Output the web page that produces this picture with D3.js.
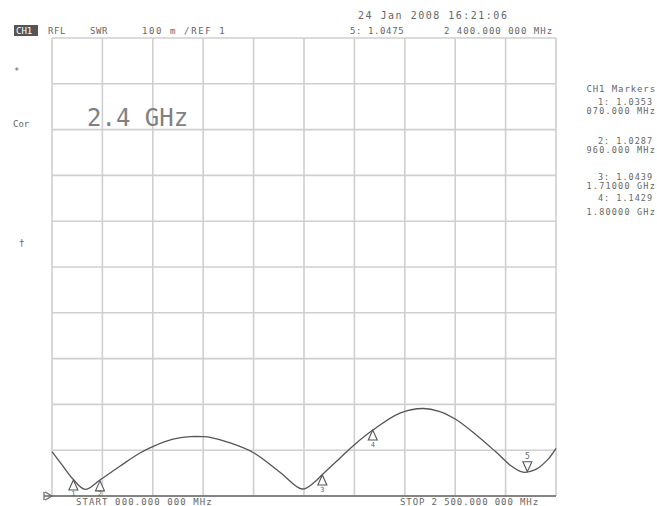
<!DOCTYPE html>
<html>
<head>
<meta charset="utf-8">
<script src="https://cdn.jsdelivr.net/npm/d3@7"></script>
<style>
  body { margin: 0; background: #fff; }
  text { font-family: "DejaVu Sans Mono", monospace; fill: #666; }
</style>
</head>
<body>
<div class="container"></div>
<script>
// trace (MHz / SWR)
const freqs = [0, 50, 104, 164, 238, 337, 436, 500, 600, 685, 750, 784, 883, 1000, 1131, 1240, 1304, 1339, 1429, 1500, 1592, 1726, 1840, 1920, 2000, 2100, 2200, 2280, 2336, 2400, 2460, 2500];
const swr = [1.097, 1.068, 1.037, 1.0146, 1.035, 1.065, 1.094, 1.108, 1.124, 1.1295, 1.1295, 1.128, 1.116, 1.0945, 1.052, 1.0153, 1.031, 1.046, 1.083, 1.112, 1.144, 1.181, 1.191, 1.185, 1.168, 1.135, 1.097, 1.065, 1.052, 1.058, 1.08, 1.104];

// markers
const markerIds = [1, 2, 3, 4, 5];
const markerFreqs = [106, 238, 1341, 1591, 2358];
const markerSwr = [1.035, 1.033, 1.046, 1.144, 1.053];

const xTicks = d3.range(0, 2501, 250);
const yTicks = d3.range(10, 21).map(d => d / 10);

const markerList = [
  ["1: 1.0353", "070.000 MHz"],
  ["2: 1.0287", "960.000 MHz"],
  ["3: 1.0439", "1.71000 GHz"],
  ["4: 1.1429", "1.80000 GHz"]
];

const WIDTH = 657;
const HEIGHT = 506;

const svg = d3.select(".container").append("svg")
  .attr("width", WIDTH).attr("height", HEIGHT);

const x = d3.scaleLinear().domain([0, 2500]).range([52, 556]);
const y = d3.scaleLinear().domain([1, 2]).range([496, 38]);

/* grid */
svg.selectAll(".vg").data(xTicks).enter().append("line")
  .attr("x1", d => x(d)).attr("x2", d => x(d))
  .attr("y1", y(2)).attr("y2", y(1))
  .attr("stroke", "#cfcfcf").attr("stroke-width", 1.6);

svg.selectAll(".hg").data(yTicks).enter().append("line")
  .attr("x1", x(0)).attr("x2", x(2500))
  .attr("y1", d => y(d)).attr("y2", d => y(d))
  .attr("stroke", "#cfcfcf").attr("stroke-width", 1.6);

// reference line at REF 1
svg.append("line")
  .attr("x1", 44).attr("x2", x(2500))
  .attr("y1", y(1)).attr("y2", y(1))
  .attr("stroke", "#666").attr("stroke-width", 1.4);
svg.append("path")
  .attr("d", `M44,${y(1) - 4}V${y(1) + 4}M45,${y(1) - 4}L52,${y(1)}L45,${y(1) + 4}`)
  .attr("fill", "none").attr("stroke", "#666").attr("stroke-width", 1.2);

/* trace */
const line = d3.line()
  .x((d, i) => x(freqs[i]))
  .y(d => y(d))
  .curve(d3.curveCatmullRom);

svg.append("path")
  .datum(swr)
  .attr("d", line)
  .attr("fill", "none")
  .attr("stroke", "#555")
  .attr("stroke-width", 1.3);

/* markers */
markerIds.forEach((id, i) => {
  const mx = x(markerFreqs[i]);
  const my = y(markerSwr[i]);
  const g = svg.append("g");
  if (id === 5) {
    g.append("path")
      .attr("d", `M${mx},${my}L${mx - 4.5},${my - 10}L${mx + 4.5},${my - 10}Z`)
      .attr("fill", "#fff").attr("stroke", "#555").attr("stroke-width", 1.1);
    g.append("text").attr("x", mx).attr("y", my - 13)
      .attr("text-anchor", "middle").attr("font-size", 8).text(id);
  } else {
    g.append("path")
      .attr("d", `M${mx},${my}L${mx - 4.5},${my + 10}L${mx + 4.5},${my + 10}Z`)
      .attr("fill", "#fff").attr("stroke", "#555").attr("stroke-width", 1.1);
    g.append("text").attr("x", mx).attr("y", Math.min(my + 17, 496))
      .attr("text-anchor", "middle").attr("font-size", 7).text(id);
  }
});

/* header */
svg.append("text").attr("x", 358).attr("y", 19)
  .attr("font-size", 10).attr("letter-spacing", 1.5)
  .text("24 Jan 2008  16:21:06");

svg.append("rect").attr("x", 14).attr("y", 25).attr("width", 24).attr("height", 11)
  .attr("fill", "#555");
svg.append("text").attr("x", 16).attr("y", 34).attr("font-size", 9)
  .style("fill", "#fff").text("CH1");

const header = [[48, "RFL", 0.6], [90, "SWR", 0.6], [142, "100 m /REF 1", 1.6], [350, "5: 1.0475", 0.6], [444, "2 400.000 000 MHz", 1.0]];
header.forEach(h => {
  svg.append("text").attr("x", h[0]).attr("y", 34)
    .attr("font-size", 9).attr("letter-spacing", h[2]).text(h[1]);
});

/* left softkey marks */
svg.append("text").attr("x", 14).attr("y", 74).attr("font-size", 9).text("*");
svg.append("text").attr("x", 13).attr("y", 127).attr("font-size", 9).text("Cor");
svg.append("text").attr("x", 19).attr("y", 246).attr("font-size", 9).text("\u2020");

/* big label */
svg.append("text").attr("x", 87).attr("y", 126)
  .attr("font-size", 24).style("fill", "#808080")
  .text("2.4 GHz");

/* marker table */
svg.append("text").attr("x", 656).attr("y", 92).attr("text-anchor", "end")
  .attr("font-size", 9).attr("letter-spacing", 0.9).text("CH1 Markers");

const rowY = [[105, 114], [144, 153], [180, 189], [201, 215]];
markerList.forEach((m, i) => {
  svg.append("text").attr("x", 653).attr("y", rowY[i][0]).attr("text-anchor", "end")
    .attr("font-size", 8.5).attr("letter-spacing", 1).text(m[0]);
  svg.append("text").attr("x", 656).attr("y", rowY[i][1]).attr("text-anchor", "end")
    .attr("font-size", 8.5).attr("letter-spacing", 1.2).text(m[1]);
});

/* start / stop */
svg.append("text").attr("x", 76).attr("y", 505)
  .attr("font-size", 9).attr("letter-spacing", 1.1).text("START 000.000 000 MHz");
svg.append("text").attr("x", 400).attr("y", 505)
  .attr("font-size", 9).attr("letter-spacing", 0.9).text("STOP 2 500.000 000 MHz");
</script>
</body>
</html>
